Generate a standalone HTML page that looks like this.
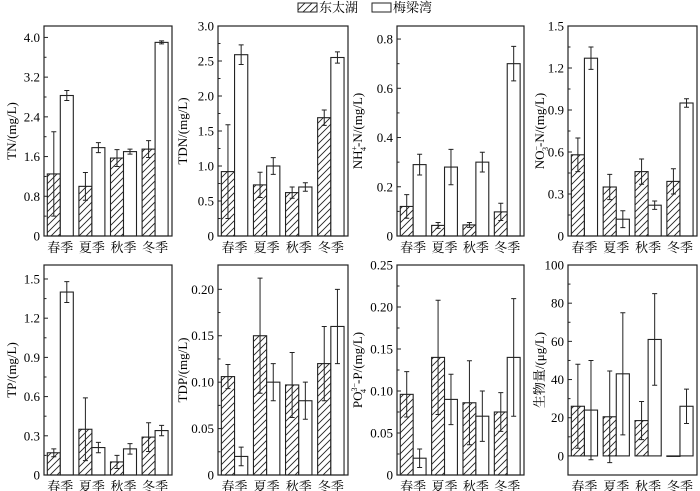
<!DOCTYPE html>
<html><head><meta charset="utf-8">
<style>
html,body{margin:0;padding:0;background:#fff;}
svg{display:block;font-family:"Liberation Serif","Noto Serif CJK SC",serif;}
</style></head>
<body>
<svg id="chart" width="700" height="491" viewBox="0 0 700 491" xmlns="http://www.w3.org/2000/svg">
<defs>
<pattern id="hatch" patternUnits="userSpaceOnUse" width="7" height="7" patternTransform="rotate(0)">
<path d="M-1,8 L8,-1 M-1,1 L1,-1 M6,8 L8,6" stroke="#222" stroke-width="0.9"/>
</pattern>
</defs>
<g>
<rect x="298" y="3" width="19" height="9" fill="url(#hatch)" stroke="#222" stroke-width="1"/>
<text x="319" y="12" font-size="13">东太湖</text>
<rect x="372" y="3" width="19" height="9" fill="#fff" stroke="#222" stroke-width="1"/>
<text x="393" y="12" font-size="13">梅梁湾</text>
</g>
</svg>
<script>
const seasons = ["春季","夏季","秋季","冬季"];
const tnHatch = [1.25,1.0,1.57,1.75], tnHatchErr = [0.85,0.28,0.17,0.17];
const tnWhite = [2.83,1.78,1.70,3.90], tnWhiteErr = [0.10,0.10,0.05,0.03];
const tdnHatch = [0.92,0.73,0.62,1.69], tdnHatchErr = [0.67,0.18,0.08,0.11];
const tdnWhite = [2.59,1.00,0.70,2.55], tdnWhiteErr = [0.14,0.12,0.06,0.08];
const nh4Hatch = [0.12,0.043,0.045,0.098], nh4HatchErr = [0.048,0.012,0.01,0.035];
const nh4White = [0.29,0.28,0.30,0.70], nh4WhiteErr = [0.042,0.072,0.04,0.07];
const no3Hatch = [0.58,0.35,0.46,0.39], no3HatchErr = [0.12,0.09,0.09,0.09];
const no3White = [1.27,0.12,0.22,0.95], no3WhiteErr = [0.08,0.06,0.03,0.03];
const tpHatch = [0.17,0.35,0.10,0.29], tpHatchErr = [0.03,0.24,0.05,0.11];
const tpWhite = [1.40,0.21,0.20,0.34], tpWhiteErr = [0.08,0.04,0.04,0.04];
const tdpHatch = [0.106,0.15,0.097,0.12], tdpHatchErr = [0.013,0.062,0.035,0.04];
const tdpWhite = [0.02,0.10,0.08,0.16], tdpWhiteErr = [0.01,0.02,0.02,0.04];
const po4Hatch = [0.096,0.14,0.086,0.075], po4HatchErr = [0.027,0.068,0.05,0.023];
const po4White = [0.02,0.09,0.07,0.14], po4WhiteErr = [0.011,0.03,0.03,0.07];
const bioHatch = [26,20.5,18.5,0], bioHatchErr = [22,24,10,0];
const bioWhite = [24,43,61,26], bioWhiteErr = [26,32,24,9];
const tnTicks = ["0","0.8","1.6","2.4","3.2","4.0"];
const tdnTicks = ["0","0.5","1.0","1.5","2.0","2.5","3.0"];
const nh4Ticks = ["0","0.2","0.4","0.6","0.8"];
const no3Ticks = ["0","0.3","0.6","0.9","1.2","1.5"];
const tpTicks = ["0","0.3","0.6","0.9","1.2","1.5"];
const tdpTicks = ["0","0.05","0.10","0.15","0.20"];
const po4Ticks = ["0","0.05","0.10","0.15","0.20","0.25"];
const bioTicks = ["0","20","40","60","80","100"];

const NS = "http://www.w3.org/2000/svg";
const svg = document.getElementById("chart");
function mk(tag, attrs, parent){ const e = document.createElementNS(NS, tag); for (const k in attrs) e.setAttribute(k, attrs[k]); (parent||svg).appendChild(e); return e; }

const panels = [
 {id:"tn", x0:44, x1:172, y0:26, y1:236, min:0, max:4.23, ticks:tnTicks, h:tnHatch, he:tnHatchErr, w:tnWhite, we:tnWhiteErr, title:"TN/(mg/L)", tx:12},
 {id:"tdn", x0:218, x1:348, y0:26, y1:236, min:0, max:3.0, ticks:tdnTicks, h:tdnHatch, he:tdnHatchErr, w:tdnWhite, we:tdnWhiteErr, title:"TDN/(mg/L)", tx:183},
 {id:"nh4", x0:397, x1:524, y0:26, y1:236, min:0, max:0.853, ticks:nh4Ticks, h:nh4Hatch, he:nh4HatchErr, w:nh4White, we:nh4WhiteErr, title:"NH4+-N/(mg/L)", tx:358, html:'NH<tspan font-size="8" dy="-5">+</tspan><tspan font-size="8" dx="-5" dy="9">4</tspan><tspan dy="-4">-N/(mg/L)</tspan>'},
 {id:"no3", x0:568, x1:697, y0:26, y1:236, min:0, max:1.5, ticks:no3Ticks, h:no3Hatch, he:no3HatchErr, w:no3White, we:no3WhiteErr, title:"NO3--N/(mg/L)", tx:540, html:'NO<tspan font-size="8" dy="-5">−</tspan><tspan font-size="8" dx="-5" dy="9">3</tspan><tspan dy="-4">-N/(mg/L)</tspan>'},
 {id:"tp", x0:44, x1:172, y0:265, y1:475, min:0, max:1.607, ticks:tpTicks, h:tpHatch, he:tpHatchErr, w:tpWhite, we:tpWhiteErr, title:"TP/(mg/L)", tx:12},
 {id:"tdp", x0:218, x1:348, y0:265, y1:475, min:0, max:0.2262, ticks:tdpTicks, h:tdpHatch, he:tdpHatchErr, w:tdpWhite, we:tdpWhiteErr, title:"TDP/(mg/L)", tx:183},
 {id:"po4", x0:397, x1:524, y0:265, y1:475, min:0, max:0.25, ticks:po4Ticks, h:po4Hatch, he:po4HatchErr, w:po4White, we:po4WhiteErr, title:"PO43--P/(mg/L)", tx:358, html:'PO<tspan font-size="8" dy="-5">3−</tspan><tspan font-size="8" dx="-10" dy="9">4</tspan><tspan dx="5" dy="-4">-P/(mg/L)</tspan>'},
 {id:"bio", x0:568, x1:697, y0:265, y1:475, min:-10, max:100, ticks:bioTicks, h:bioHatch, he:bioHatchErr, w:bioWhite, we:bioWhiteErr, title:"生物量/(μg/L)", tx:540}
];

panels.forEach(p => {
  const g = mk("g", {});
  
  
  const ys = v => p.y1 - (v - p.min) / (p.max - p.min) * (p.y1 - p.y0);
  const bw = (p.x1 - p.x0) * 13 / 128;
  const gx = i => p.x0 + (p.x1 - p.x0) * (3.3 + i * 31.6) / 128;
  const base = ys(Math.max(0, p.min));
  // bars
  for (let i = 0; i < seasons.length; i++) {
    [[p.h, p.he, "url(#hatch)", 0, "hatch"], [p.w, p.we, "#fff", 1, "white"]].forEach(s => {
      const v = s[0][i], e = s[1][i];
      const x = gx(i) + s[3] * bw;
      const yt = ys(v);
      const r = mk("rect", {x:x, y:Math.min(yt, base), width:bw, height:Math.max(Math.abs(base - yt), 0.5), fill:s[2], stroke:"#222", "stroke-width":1.1}, g);
      
      
      if (e > 0) {
        const cx = x + bw / 2;
        const eb = mk("path", {d:`M${cx},${ys(v-e)}V${ys(v+e)}M${cx-2.5},${ys(v-e)}H${cx+2.5}M${cx-2.5},${ys(v+e)}H${cx+2.5}`, stroke:"#222", "stroke-width":1, fill:"none"}, g);
        
        
      }
    });
    const lab = mk("text", {x:gx(i) + bw, y:p.y1 + 16, "text-anchor":"middle", "font-size":13}, g);
    
    
    lab.textContent = seasons[i];
  }
  // frame
  const fr = mk("rect", {x:p.x0, y:p.y0, width:p.x1 - p.x0, height:p.y1 - p.y0, fill:"none", stroke:"#222", "stroke-width":1.2}, g);
  
  
  // ticks
  for (let k = 0; k < p.ticks.length; k++) {
    const v = parseFloat(p.ticks[k]);
    const y = ys(v);
    const t = mk("line", {x1:p.x0, x2:p.x0 + 4, y1:y, y2:y, stroke:"#222", "stroke-width":1}, g);
    
    
    if (k + 1 < p.ticks.length) {
      const ym = ys((v + parseFloat(p.ticks[k + 1])) / 2);
      const m = mk("line", {x1:p.x0, x2:p.x0 + 2.5, y1:ym, y2:ym, stroke:"#222", "stroke-width":1}, g);
      
      
    }
    const tl = mk("text", {x:p.x0 - 4, y:y + 4.5, "text-anchor":"end", "font-size":13}, g);
    
    
    tl.textContent = p.ticks[k];
  }
  const cy = (p.y0 + p.y1) / 2;
  const tt = mk("text", {x:p.tx, y:cy, "text-anchor":"middle", "font-size":13, transform:`rotate(-90 ${p.tx} ${cy})`, dy:"4"}, g);
  
  
  if (p.html) tt.innerHTML = p.html; else tt.textContent = p.title;
});
</script>
</body></html>
